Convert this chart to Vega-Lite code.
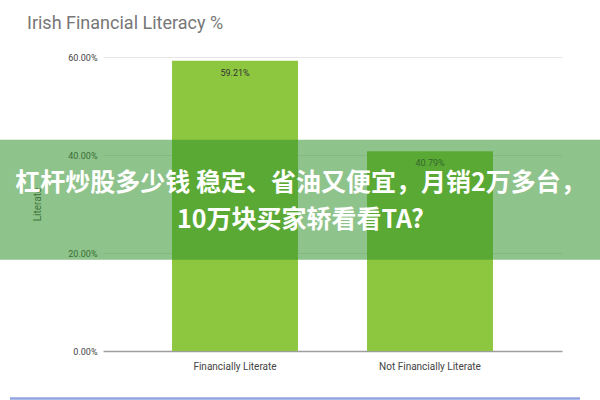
{
  "$schema": "https://vega.github.io/schema/vega-lite/v6.json",
  "autosize": "none",
  "width": 459,
  "height": 294,
  "padding": {"left": 103, "top": 57, "right": 38, "bottom": 49},
  "background": "#ffffff",
  "config": {
    "view": {"stroke": null},
    "font": "Roboto",
    "axis": {
      "labelFont": "Roboto",
      "titleFont": "Roboto",
      "labelColor": "#444444",
      "titleColor": "#555555",
      "domain": false,
      "ticks": false
    }
  },
  "title": {
    "text": "Irish Financial Literacy %",
    "anchor": "start",
    "frame": "group",
    "dx": -76,
    "offset": 20,
    "font": "Roboto",
    "fontSize": 18,
    "fontWeight": "normal",
    "color": "#777777"
  },
  "datasets": {
    "literacy": [
      {"group": "Financially Literate", "pct": 0.5921},
      {"group": "Not Financially Literate", "pct": 0.4079}
    ],
    "banner": [{"top": 0.431, "bottom": 0.186}],
    "bannerText": [
      {"line": "杠杆炒股多少钱 稳定、省油又便宜，月销2万多台，", "pos": 0.343},
      {"line": "10万块买家轿看看TA?", "pos": 0.267}
    ]
  },
  "layer": [
    {
      "data": {"name": "literacy"},
      "mark": {"type": "bar", "color": "#8dc73f"},
      "encoding": {
        "x": {
          "field": "group",
          "type": "nominal",
          "sort": null,
          "title": null,
          "scale": {"paddingInner": 0.354, "paddingOuter": 0.354},
          "axis": {"labelAngle": 0, "labelPadding": 10, "labelFontSize": 10}
        },
        "y": {
          "field": "pct",
          "type": "quantitative",
          "title": "Literate",
          "scale": {"domain": [0, 0.6]},
          "axis": {
            "values": [0, 0.2, 0.4, 0.6],
            "format": ".2%",
            "labelFontSize": 9,
            "labelPadding": 6,
            "titleFontSize": 10,
            "titleFontWeight": "normal",
            "titlePadding": 25,
            "gridColor": {"condition": {"test": "datum.value === 0", "value": "#9e9e9e"}, "value": "#e6e6e6"},
            "gridWidth": {"condition": {"test": "datum.value === 0", "value": 1.5}, "value": 1}
          }
        }
      }
    },
    {
      "data": {"name": "literacy"},
      "mark": {"type": "text", "baseline": "top", "dy": 8, "fontSize": 9, "color": "#333333"},
      "encoding": {
        "x": {"field": "group", "type": "nominal", "sort": null},
        "y": {"field": "pct", "type": "quantitative"},
        "text": {"field": "pct", "type": "quantitative", "format": ".2%"}
      }
    },
    {
      "data": {"name": "banner"},
      "mark": {"type": "rect", "color": "#30902a", "opacity": 0.54, "xOffset": -103, "x2Offset": 38},
      "encoding": {
        "x": {"value": 0},
        "x2": {"value": "width"},
        "y": {"field": "top", "type": "quantitative"},
        "y2": {"field": "bottom"}
      }
    },
    {
      "data": {"name": "bannerText"},
      "mark": {
        "type": "text",
        "font": "Noto Sans CJK SC",
        "fontSize": 25,
        "fontWeight": "bold",
        "color": "#ffffff",
        "baseline": "middle",
        "dx": -32
      },
      "encoding": {
        "y": {"field": "pos", "type": "quantitative"},
        "text": {"field": "line", "type": "nominal"}
      }
    },
    {
      "data": {"name": "banner"},
      "mark": {"type": "rule", "color": "#93a4e2", "strokeWidth": 2.5, "xOffset": -93, "x2Offset": 18},
      "encoding": {
        "x": {"value": 0},
        "x2": {"value": "width"},
        "y": {"datum": -0.097}
      }
    }
  ]
}
